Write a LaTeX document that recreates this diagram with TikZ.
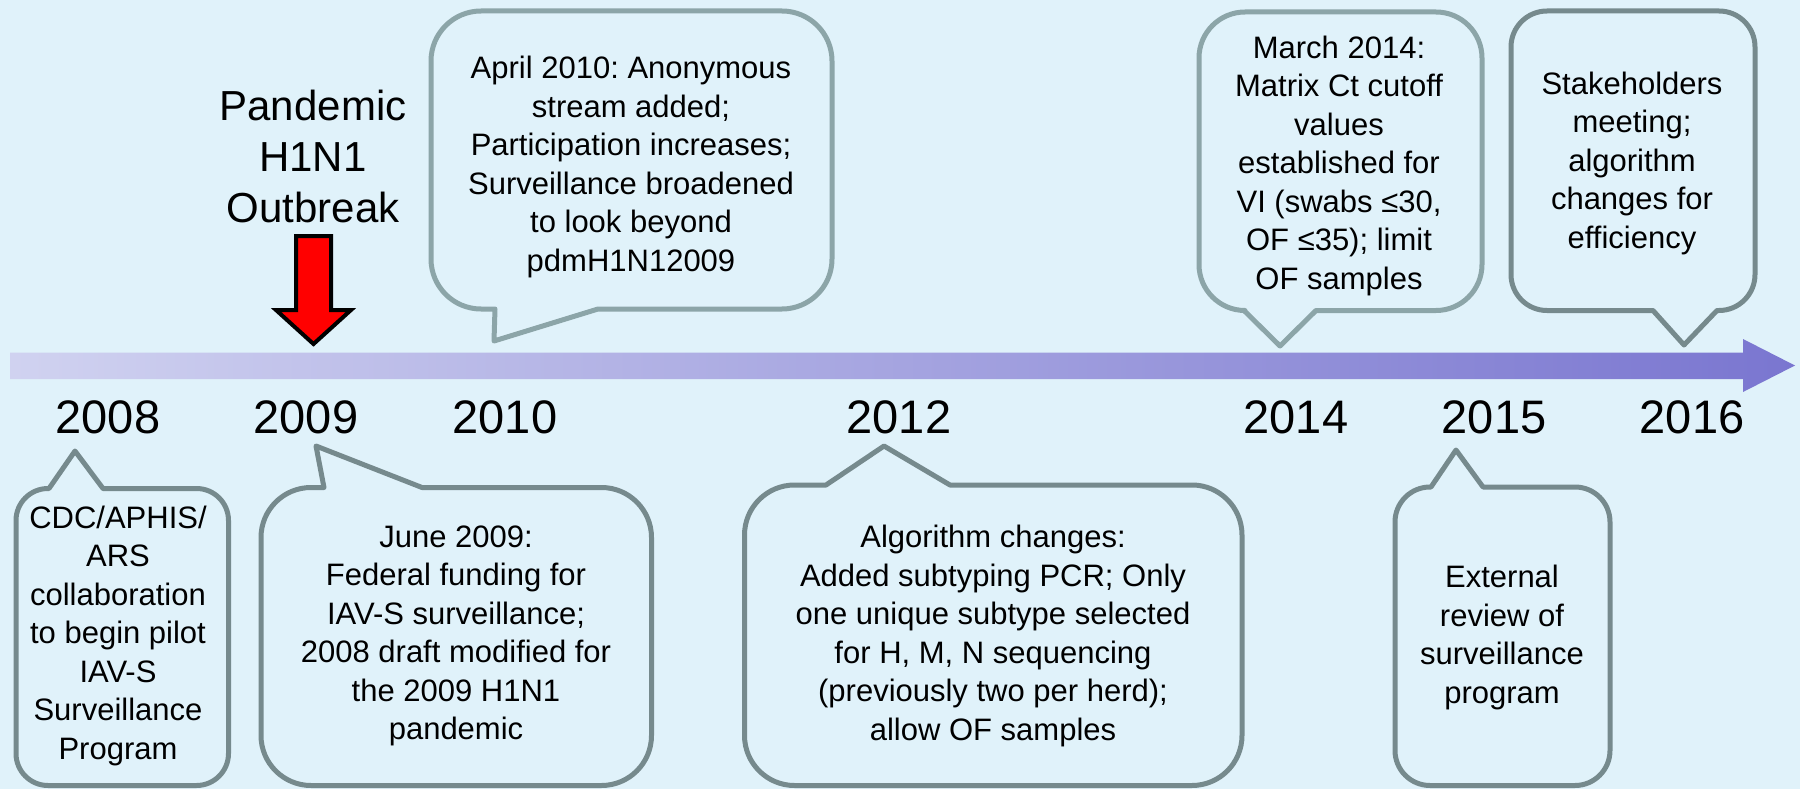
\documentclass[tikz,border=0pt]{standalone}
\usepackage{fontspec}
\setmainfont{Liberation Sans}
\frenchspacing
\definecolor{bgc}{RGB}{224,242,250}
\definecolor{bublight}{RGB}{140,165,168}
\definecolor{bubdark}{RGB}{118,138,141}
\definecolor{barleft}{RGB}{208,210,240}
\definecolor{barright}{RGB}{122,118,208}
% down-pointing callout: #1 x0 #2 y0 #3 x1 #4 y1 #5 R #6 P1x #7 Tx #8 Ty #9 P2x
\newcommand{\bubDown}[9]{%
  \draw[bub] (#7,#8) -- (#9,#4) -- ({#3-#5},#4) arc[start angle=90,end angle=0,radius=#5]
    -- (#3,{#2+#5}) arc[start angle=0,end angle=-90,radius=#5]
    -- ({#1+#5},#2) arc[start angle=270,end angle=180,radius=#5]
    -- (#1,{#4-#5}) arc[start angle=180,end angle=90,radius=#5]
    -- (#6,#4) -- cycle;}
% up-pointing callout
\newcommand{\bubUp}[9]{%
  \draw[bub] (#6,#2) -- (#7,#8) -- (#9,#2) -- ({#3-#5},#2) arc[start angle=270,end angle=360,radius=#5]
    -- (#3,{#4-#5}) arc[start angle=0,end angle=90,radius=#5]
    -- ({#1+#5},#4) arc[start angle=90,end angle=180,radius=#5]
    -- (#1,{#2+#5}) arc[start angle=180,end angle=270,radius=#5]
    -- cycle;}
\begin{document}
\begin{tikzpicture}[x=1pt,y=-1pt,
  bub/.style={draw=bublight,fill=bgc,line width=5pt,line join=round},
  txt/.style={inner sep=0pt,align=center,font=\fontsize{31}{38.5}\selectfont},
  year/.style={inner sep=0pt,anchor=base,font=\fontsize{47}{56}\selectfont}]
\useasboundingbox (0,0) rectangle (1800,789);
\fill[bgc] (0,0) rectangle (1800,789);

% timeline bar
\shade[left color=barleft,right color=barright]
  (10,352.5) -- (1743,352.5) -- (1743,339) -- (1795,365.5) -- (1743,392) -- (1743,379) -- (10,379) -- cycle;

% top callouts
\bubDown{431}{11}{832}{309}{50}{495}{494}{341}{598}
\bubDown{1199}{12}{1482}{310.5}{46}{1244}{1280}{346}{1316}
\begin{scope}[bub/.style={draw=bubdark,fill=bgc,line width=5pt,line join=round}]
\bubDown{1511}{11}{1755}{310.5}{36}{1653}{1684}{345}{1717}
% bottom callouts
\bubUp{16}{488.5}{228.5}{785.5}{32}{49}{75}{451}{103}
\bubUp{261}{487.5}{651.5}{785.5}{50}{324}{316}{446}{422}
\bubUp{744.5}{485}{1242}{785.5}{50}{826}{884}{446}{950}
\bubUp{1395}{487}{1610}{785.5}{35}{1431}{1456}{450}{1483}
\end{scope}

% red arrow
\draw[fill=red,draw=black,line width=4pt,miter limit=10]
  (296,236) -- (331,236) -- (331,310) -- (351,310) -- (313.5,344) -- (276,310) -- (296,310) -- cycle;

% texts
\node[inner sep=0pt,align=center,font=\fontsize{42}{51}\selectfont] (pand) at (313,156) {Pandemic\\H1N1\\Outbreak};
\node[txt] (t2010) at (631,167) {April 2010: Anonymous\\stream added;\\Participation increases;\\Surveillance broadened\\to look beyond\\pdmH1N12009};
\node[txt] (t2014) at (1339,165.5) {March 2014:\\Matrix Ct cutoff\\values\\established for\\VI (swabs ≤30,\\OF ≤35); limit\\OF samples};
\node[txt] (t2016) at (1632,163) {Stakeholders\\meeting;\\algorithm\\changes for\\efficiency};
\node[txt] (t2008) at (118,635.5) {CDC/APHIS/\\ARS\\collaboration\\to begin pilot\\IAV-S\\Surveillance\\Program};
\node[txt] (t2009) at (456,636) {June 2009:\\Federal funding for\\IAV-S surveillance;\\2008 draft modified for\\the 2009 H1N1\\pandemic};
\node[txt] (t2012) at (993,636) {Algorithm changes:\\Added subtyping PCR; Only\\one unique subtype selected\\for H, M, N sequencing\\(previously two per herd);\\allow OF samples};
\node[txt] (t2015) at (1502,637.5) {External\\review of\\surveillance\\program};

% years
\node[year] (y2008) at (108,433) {2008};
\node[year] (y2009) at (306,433) {2009};
\node[year] (y2010) at (505,433) {2010};
\node[year] (y2012) at (899,433) {2012};
\node[year] (y2014) at (1296,433) {2014};
\node[year] (y2015) at (1494,433) {2015};
\node[year] (y2016) at (1692,433) {2016};
\end{tikzpicture}
\end{document}
